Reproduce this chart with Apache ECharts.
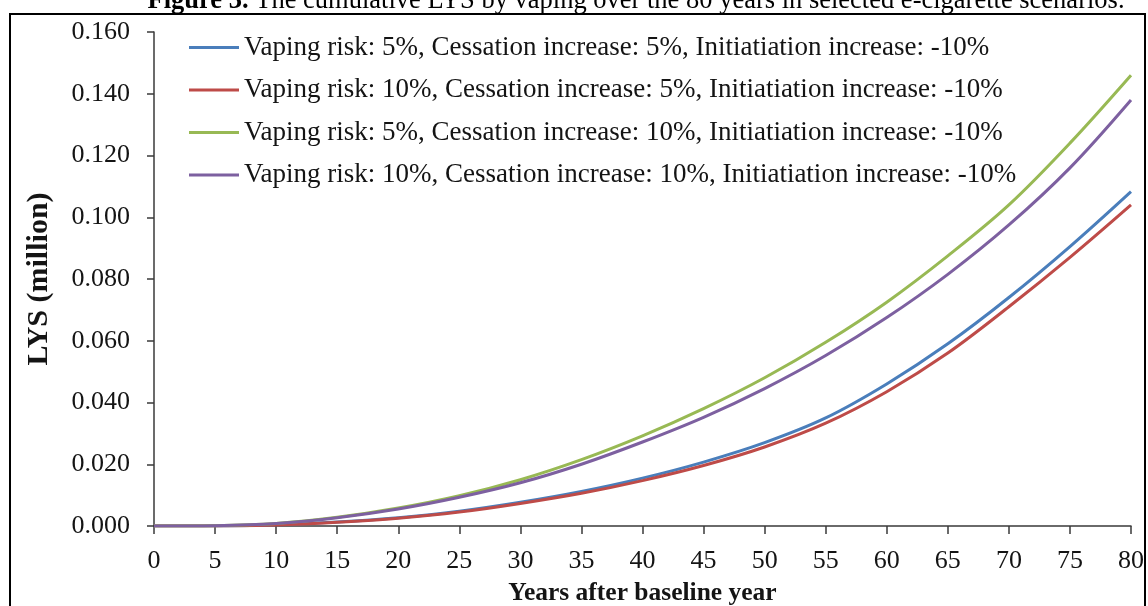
<!DOCTYPE html>
<html>
<head>
<meta charset="utf-8">
<script src="https://cdn.jsdelivr.net/npm/echarts@6/dist/echarts.min.js"></script>
<style>
  html, body { margin: 0; padding: 0; background: #ffffff; }
  #chart { width: 1148px; height: 606px; }
</style>
</head>
<body>
<div id="chart"></div>
<script>
// Years after the baseline year (x axis)
const years = [0, 5, 10, 15, 20, 25, 30, 35, 40, 45, 50, 55, 60, 65, 70, 75, 80];

// Cumulative life-years saved (million) per scenario
const risk5Cess5 = [0, 0.0000, 0.0004, 0.0013, 0.0027, 0.0048, 0.0077, 0.0112, 0.0155, 0.0207, 0.0270, 0.0350, 0.0460, 0.0590, 0.0740, 0.0905, 0.1083];
const risk10Cess5 = [0, 0.0000, 0.0003, 0.0012, 0.0025, 0.0045, 0.0073, 0.0106, 0.0147, 0.0196, 0.0256, 0.0333, 0.0435, 0.0560, 0.0710, 0.0870, 0.1040];
const risk5Cess10 = [0, 0.0001, 0.0008, 0.0028, 0.0058, 0.0098, 0.0150, 0.0215, 0.0292, 0.0380, 0.0480, 0.0595, 0.0725, 0.0875, 0.1040, 0.1240, 0.1460];
const risk10Cess10 = [0, 0.0001, 0.0008, 0.0027, 0.0055, 0.0093, 0.0140, 0.0200, 0.0272, 0.0352, 0.0445, 0.0552, 0.0675, 0.0815, 0.0975, 0.1160, 0.1380];

const seriesNames = [
  'Vaping risk: 5%, Cessation increase: 5%, Initiatiation increase: -10%',
  'Vaping risk: 10%, Cessation increase: 5%, Initiatiation increase: -10%',
  'Vaping risk: 5%, Cessation increase: 10%, Initiatiation increase: -10%',
  'Vaping risk: 10%, Cessation increase: 10%, Initiatiation increase: -10%'
];
const seriesValues = [risk5Cess5, risk10Cess5, risk5Cess10, risk10Cess10];
const seriesColors = ['#4A7EBB', '#BE4B48', '#98B954', '#7D60A0'];

const titleBold = 'Figure 3.';
const titleRest = ' The cumulative LYS by vaping over the 80 years in selected e-cigarette scenarios.';
const yAxisTitle = 'LYS (million)';
const xAxisTitle = 'Years after baseline year';

const FONT = "'Liberation Serif', 'Times New Roman', serif";
const AXIS_COLOR = '#3a3a3a';
const TEXT_COLOR = '#141414';

const chart = echarts.init(document.getElementById('chart'), null, { renderer: 'canvas' });

const series = seriesValues.map((vals, i) => ({
  name: seriesNames[i],
  type: 'line',
  data: years.map((y, j) => [y, vals[j]]),
  smooth: 0.35,
  showSymbol: false,
  symbol: 'none',
  lineStyle: { width: 3, color: seriesColors[i] },
  itemStyle: { color: seriesColors[i] },
  emphasis: { disabled: true },
  animation: false
}));

chart.setOption({
  backgroundColor: '#ffffff',
  animation: false,
  textStyle: { fontFamily: FONT },
  grid: { left: 154, right: 17, top: 32, bottom: 80, containLabel: false, outerBoundsMode: 'none' },
  legend: {
    orient: 'vertical',
    left: 184,
    top: 29,
    icon: 'rect',
    itemWidth: 50,
    itemHeight: 3,
    itemGap: 15.5,
    textStyle: { fontFamily: FONT, fontSize: 27, color: TEXT_COLOR },
    data: seriesNames
  },
  xAxis: {
    type: 'value',
    min: 0,
    max: 80,
    interval: 5,
    name: xAxisTitle,
    nameLocation: 'middle',
    nameGap: 54,
    nameTextStyle: { fontFamily: FONT, fontSize: 25.5, fontWeight: 'bold', color: TEXT_COLOR },
    axisLine: { show: true, lineStyle: { color: AXIS_COLOR, width: 1.5 } },
    axisTick: { show: true, length: 8, lineStyle: { color: AXIS_COLOR, width: 1.5 } },
    axisLabel: { fontFamily: FONT, fontSize: 26, color: TEXT_COLOR, margin: 22 },
    splitLine: { show: false }
  },
  yAxis: {
    type: 'value',
    min: 0,
    max: 0.16,
    interval: 0.02,
    name: yAxisTitle,
    nameLocation: 'middle',
    nameGap: 100,
    nameRotate: 90,
    nameTextStyle: { fontFamily: FONT, fontSize: 30, fontWeight: 'bold', color: TEXT_COLOR },
    axisLine: { show: true, lineStyle: { color: AXIS_COLOR, width: 1.5 } },
    axisTick: { show: true, length: 7, lineStyle: { color: AXIS_COLOR, width: 1.5 } },
    axisLabel: {
      fontFamily: FONT, fontSize: 26, color: TEXT_COLOR, margin: 24,
      formatter: v => v.toFixed(3)
    },
    splitLine: { show: false }
  },
  graphic: [
    {
      type: 'rect',
      silent: true,
      shape: { x: 10, y: 14, width: 1135, height: 620 },
      style: { fill: 'none', stroke: '#000000', lineWidth: 2 },
      z: 100
    },
    {
      type: 'text',
      silent: true,
      x: 636,
      y: 1,
      style: {
        text: '{b|' + titleBold + '}{r|' + titleRest + '}',
        align: 'center',
        verticalAlign: 'middle',
        rich: {
          b: { fontFamily: FONT, fontSize: 26.5, fontWeight: 'bold', fill: '#000000' },
          r: { fontFamily: FONT, fontSize: 26.5, fill: '#000000' }
        }
      },
      z: 100
    }
  ],
  series: series
});
</script>
</body>
</html>
